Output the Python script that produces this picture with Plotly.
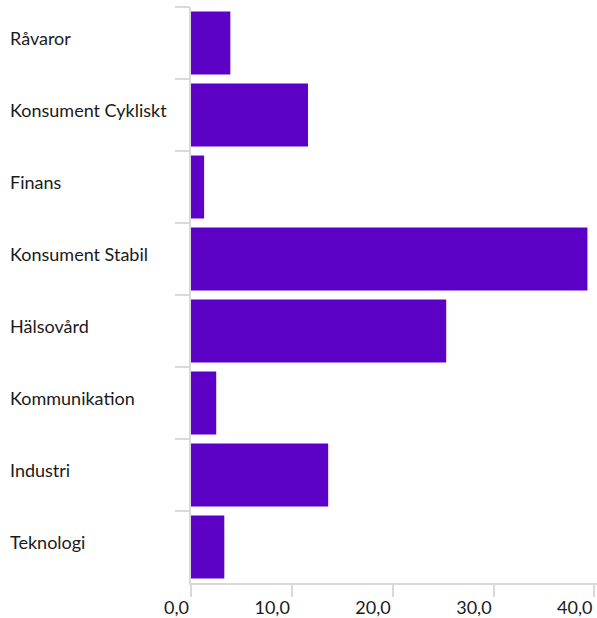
import plotly.graph_objects as go

categories = ["Råvaror", "Konsument Cykliskt", "Finans", "Konsument Stabil",
              "Hälsovård", "Kommunikation", "Industri", "Teknologi"]
values = [3.9, 11.6, 1.3, 39.3, 25.3, 2.5, 13.6, 3.3]
x_ticks = [0, 10, 20, 30, 40]
x_tick_labels = ["0,0", "10,0", "20,0", "30,0", "40,0"]

BAR = "#5c02c6"
GRID = "#d9d9d9"
FONT = "Lato"
TXT = "#1a1a1a"

fig = go.Figure(go.Bar(
    x=values, y=categories, orientation="h",
    marker=dict(color=BAR, line=dict(width=0)),
    hoverinfo="x+y",
))

for c in categories:
    fig.add_annotation(
        x=0, xref="paper", y=c, yref="y", xanchor="left", yanchor="middle",
        xshift=-183, yshift=5, text=c, showarrow=False,
        font=dict(family=FONT, size=18, color=TXT),
    )

fig.update_layout(
    width=597, height=618,
    margin=dict(l=191, r=0, t=7, b=35),
    paper_bgcolor="white", plot_bgcolor="white",
    bargap=0.125, showlegend=False,
    font=dict(family=FONT, size=18, color=TXT),
)
fig.update_xaxes(
    range=[0, 40.25], tickvals=x_ticks, ticktext=x_tick_labels,
    showgrid=False, zeroline=False,
    showline=True, linecolor=GRID, linewidth=2,
    ticks="outside", ticklen=12, tickwidth=2, tickcolor=GRID,
    ticklabelposition="outside left", ticklabelstandoff=7,
    tickfont=dict(family=FONT, size=18, color=TXT),
)
fig.update_yaxes(
    categoryorder="array", categoryarray=categories, autorange="reversed",
    showticklabels=False, showgrid=False, zeroline=False,
    showline=True, linecolor=GRID, linewidth=2,
    ticks="outside", ticklen=14, tickwidth=2, tickcolor=GRID,
    tickson="boundaries",
)

fig.write_html("out.html", config={"displayModeBar": False},
               post_script="document.body.style.margin='0';document.body.style.overflow='hidden';")
